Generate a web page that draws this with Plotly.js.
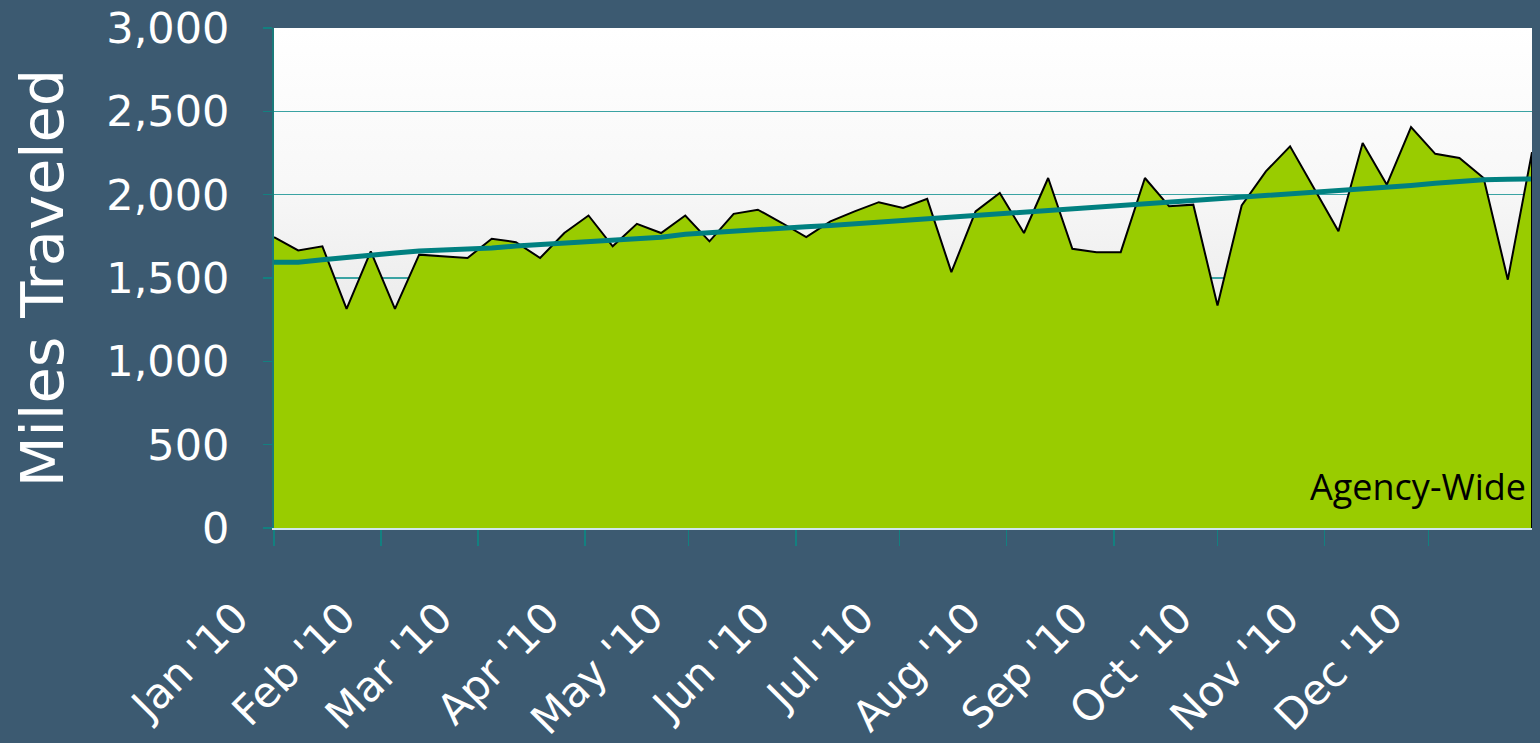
<!DOCTYPE html>
<html>
<head>
<meta charset="utf-8">
<script src="https://cdn.plot.ly/plotly-3.0.1.min.js"></script>
<style>
  html, body { margin: 0; padding: 0; background: #3c5a71; }
  #chart { width: 1540px; height: 743px; }
</style>
</head>
<body>
<div id="chart"></div>
<script>
// Weekly observation dates (2010)
const weeks = [
  "2010-01-01","2010-01-08","2010-01-15","2010-01-22","2010-01-29",
  "2010-02-05","2010-02-12","2010-02-19","2010-02-26",
  "2010-03-05","2010-03-12","2010-03-19","2010-03-26",
  "2010-04-02","2010-04-09","2010-04-16","2010-04-23","2010-04-30",
  "2010-05-07","2010-05-14","2010-05-21","2010-05-28",
  "2010-06-04","2010-06-11","2010-06-18","2010-06-25",
  "2010-07-02","2010-07-09","2010-07-16","2010-07-23","2010-07-30",
  "2010-08-06","2010-08-13","2010-08-20","2010-08-27",
  "2010-09-03","2010-09-10","2010-09-17","2010-09-24",
  "2010-10-01","2010-10-08","2010-10-15","2010-10-22","2010-10-29",
  "2010-11-05","2010-11-12","2010-11-19","2010-11-26",
  "2010-12-03","2010-12-10","2010-12-17","2010-12-24","2010-12-31"
];

// Weekly miles traveled (agency-wide)
const milesTraveled = [
  1745, 1665, 1690, 1315, 1660,
  1315, 1640, 1630, 1620,
  1735, 1715, 1620, 1770,
  1875, 1690, 1825, 1770, 1875,
  1720, 1885, 1910, 1830,
  1745, 1840, 1900, 1955,
  1920, 1975, 1535, 1900, 2010,
  1770, 2100, 1675, 1655,
  1655, 2100, 1930, 1940,
  1335, 1935, 2140, 2290, 2035,
  1780, 2310, 2060, 2405,
  2245, 2220, 2100, 1490, 2255
];

// Trend line values
const trendMiles = [
  1595, 1595, 1610, 1625, 1638,
  1650, 1662, 1668, 1670,
  1680, 1692, 1700, 1710,
  1720, 1730, 1738, 1745, 1762,
  1772, 1782, 1795, 1805,
  1808, 1815, 1825, 1835,
  1845, 1855, 1862, 1870, 1878,
  1890, 1900, 1910, 1920,
  1930, 1940, 1950, 1960,
  1970, 1980, 1990, 2002, 2015,
  2025, 2028, 2040, 2055,
  2068, 2080, 2090, 2093, 2094
];

// Axis ticks
const monthTicks = ["2010-01-01","2010-02-01","2010-03-01","2010-04-01","2010-05-01","2010-06-01",
                    "2010-07-01","2010-08-01","2010-09-01","2010-10-01","2010-11-01","2010-12-01"];
const monthLabels = ["Jan '10","Feb '10","Mar '10","Apr '10","May '10","Jun '10",
                     "Jul '10","Aug '10","Sep '10","Oct '10","Nov '10","Dec '10"];
const yTicks = [0, 500, 1000, 1500, 2000, 2500, 3000];
const yTickLabels = ["0","500","1,000","1,500","2,000","2,500","3,000"];

const seriesLabel = "Agency-Wide";
const yTitle = "Miles Traveled";

const gradSvg = '<svg xmlns="http://www.w3.org/2000/svg" width="100" height="100" preserveAspectRatio="none">' +
  '<defs><linearGradient id="g" x1="0" y1="0" x2="0" y2="1">' +
  '<stop offset="0" stop-color="#ffffff"/><stop offset="0.3" stop-color="#f8f8f8"/>' +
  '<stop offset="1" stop-color="#d8d8d8"/></linearGradient></defs>' +
  '<rect width="100" height="100" fill="url(#g)"/></svg>';
const gradUri = 'data:image/svg+xml;charset=utf-8,' + encodeURIComponent(gradSvg);

const lastX = weeks[weeks.length - 1];
const lastY = milesTraveled[milesTraveled.length - 1];

const traces = [
  {
    type: "scatter",
    mode: "lines",
    x: weeks,
    y: milesTraveled,
    fill: "tozeroy",
    fillcolor: "#99cc00",
    line: { color: "#000000", width: 2 },
    name: seriesLabel
  },
  {
    type: "scatter",
    mode: "lines",
    x: weeks,
    y: trendMiles,
    line: { color: "#008080", width: 5 },
    name: "Trend"
  }
];

const layout = {
  width: 1540,
  height: 743,
  paper_bgcolor: "#3c5a71",
  plot_bgcolor: "rgba(0,0,0,0)",
  margin: { l: 274, r: 8, t: 28, b: 215 },
  showlegend: false,
  images: [{
    source: gradUri,
    xref: "paper", yref: "paper",
    x: 0, y: 1, sizex: 1, sizey: 1,
    xanchor: "left", yanchor: "top",
    sizing: "stretch",
    layer: "below"
  }],
  xaxis: {
    type: "date",
    range: ["2010-01-01", "2010-12-31"],
    tickmode: "array",
    tickvals: monthTicks,
    ticktext: monthLabels,
    tickangle: -45,
    tickfont: { family: "DejaVu Sans", size: 42, color: "#ffffff" },
    ticks: "outside",
    ticklen: 16,
    tickwidth: 1.5,
    tickcolor: "#138080",
    ticklabelshift: -38,
    ticklabelstandoff: 30,
    showgrid: false,
    zeroline: false,
    showline: true,
    linecolor: "#cfe6ee",
    linewidth: 2
  },
  yaxis: {
    range: [0, 3000],
    tickmode: "array",
    tickvals: yTicks,
    ticktext: yTickLabels,
    tickfont: { family: "DejaVu Sans", size: 43, color: "#ffffff" },
    ticks: "outside",
    ticklen: 9,
    tickwidth: 1.5,
    tickcolor: "#138080",
    ticklabelstandoff: 25,
    showgrid: true,
    gridcolor: "#3aa3a3",
    gridwidth: 1.5,
    zeroline: false,
    showline: true,
    linecolor: "#1a7a7a",
    linewidth: 2,
    title: {
      text: yTitle,
      font: { family: "DejaVu Sans", size: 59, color: "#ffffff" },
      standoff: 24
    }
  },
  shapes: [{
    type: "line",
    xref: "x", yref: "y",
    x0: lastX, x1: lastX, y0: 0, y1: lastY,
    line: { color: "#000000", width: 2 }
  }],
  annotations: [{
    text: seriesLabel,
    xref: "paper", yref: "paper",
    x: 1, y: 0.083,
    xanchor: "right", yanchor: "middle",
    xshift: -4,
    showarrow: false,
    font: { family: "Open Sans", size: 36, color: "#000000" }
  }]
};

Plotly.newPlot("chart", traces, layout, { displayModeBar: false, staticPlot: true });
</script>
</body>
</html>
